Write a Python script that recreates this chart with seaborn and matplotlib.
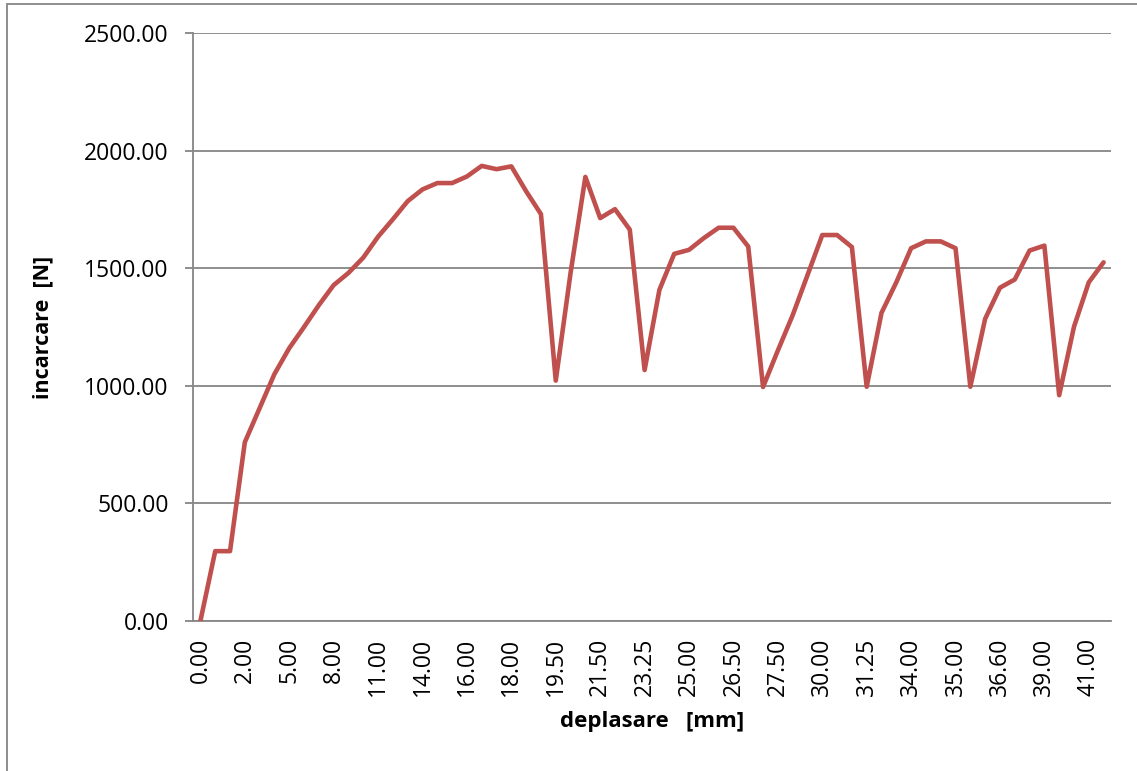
import matplotlib
matplotlib.use("Agg")
import matplotlib.pyplot as plt
from matplotlib.ticker import MultipleLocator, FixedLocator
from matplotlib.patches import Rectangle
import seaborn as sns
import pandas as pd

# displacement [mm] for each recorded step
deplasare = [0.00, 0.50, 1.00, 2.00, 3.00, 4.00, 5.00, 6.00, 7.00, 8.00,
             9.00, 10.00, 11.00, 12.00, 13.00, 14.00, 14.50, 15.00, 16.00, 16.50,
             17.00, 18.00, 18.50, 19.00, 19.50, 20.00, 21.00, 21.50, 22.00, 22.75,
             23.25, 23.75, 24.50, 25.00, 25.50, 26.00, 26.50, 26.75, 27.00, 27.50,
             28.50, 29.00, 30.00, 30.50, 31.00, 31.25, 32.00, 33.00, 34.00, 34.25,
             34.50, 35.00, 35.25, 36.00, 36.60, 37.00, 38.00, 39.00, 39.25, 40.00,
             41.00, 42.00]

# measured load [N]
incarcare = [0, 297, 297, 760, 905, 1050, 1160, 1250, 1343, 1428,
             1480, 1545, 1634, 1708, 1785, 1835, 1862, 1862, 1890, 1935,
             1921, 1933, 1827, 1730, 1022, 1480, 1888, 1713, 1751, 1664,
             1067, 1408, 1561, 1578, 1628, 1672, 1672, 1592, 995, 1150,
             1300, 1470, 1641, 1641, 1590, 996, 1310, 1440, 1585, 1614,
             1614, 1585, 996, 1285, 1417, 1452, 1575, 1596, 960, 1251,
             1440, 1525]

y_ticks = [0, 500, 1000, 1500, 2000, 2500]

df = pd.DataFrame({"deplasare": [f"{v:.2f}" for v in deplasare],
                   "incarcare": incarcare})

sns.set_style("white")
plt.rcParams["font.family"] = ["Open Sans", "DejaVu Sans"]
plt.rcParams["text.color"] = "black"
plt.rcParams["axes.labelcolor"] = "black"

grid_col = "#868686"
fig = plt.figure(figsize=(11.37, 7.71), dpi=100)
ax = fig.add_axes([193 / 1137, 1 - 621 / 771, 918 / 1137, 588 / 771])

sns.lineplot(data=df, x="deplasare", y="incarcare", ax=ax,
             color="#C0504D", linewidth=3.3, sort=False, zorder=3)

n = len(deplasare)
ax.set_xlim(-0.5, n - 0.5)
ax.set_ylim(y_ticks[0], y_ticks[-1])
ax.yaxis.set_major_locator(FixedLocator(y_ticks))
ax.set_yticklabels([f"{v:.2f}" for v in y_ticks])
ax.xaxis.set_major_locator(MultipleLocator(3))

ax.grid(axis="y", color=grid_col, linewidth=1.3)
ax.grid(axis="x", visible=False)
for side in ("top", "right"):
    ax.spines[side].set_visible(False)
for side in ("left", "bottom"):
    ax.spines[side].set_color(grid_col)
    ax.spines[side].set_linewidth(1.3)

ax.tick_params(axis="y", direction="out", length=5.5, width=1.3,
               color=grid_col, pad=12, labelsize=16.5, labelcolor="black",
               left=True)
ax.tick_params(axis="x", length=0, pad=12, labelsize=16.5,
               labelcolor="black", rotation=90)

ax.set_xlabel("deplasare   [mm]", fontsize=16, fontweight="bold", labelpad=11)
ax.set_ylabel("incarcare  [N]", fontsize=15.5, fontweight="bold", labelpad=22)

# outer chart frame
fig.patches.append(Rectangle((7 / 1137, -0.05), 1.2, 1 - 4 / 771 + 0.05,
                             transform=fig.transFigure, fill=False,
                             edgecolor=grid_col, linewidth=1.3))

fig.savefig("out.png", dpi=100)
